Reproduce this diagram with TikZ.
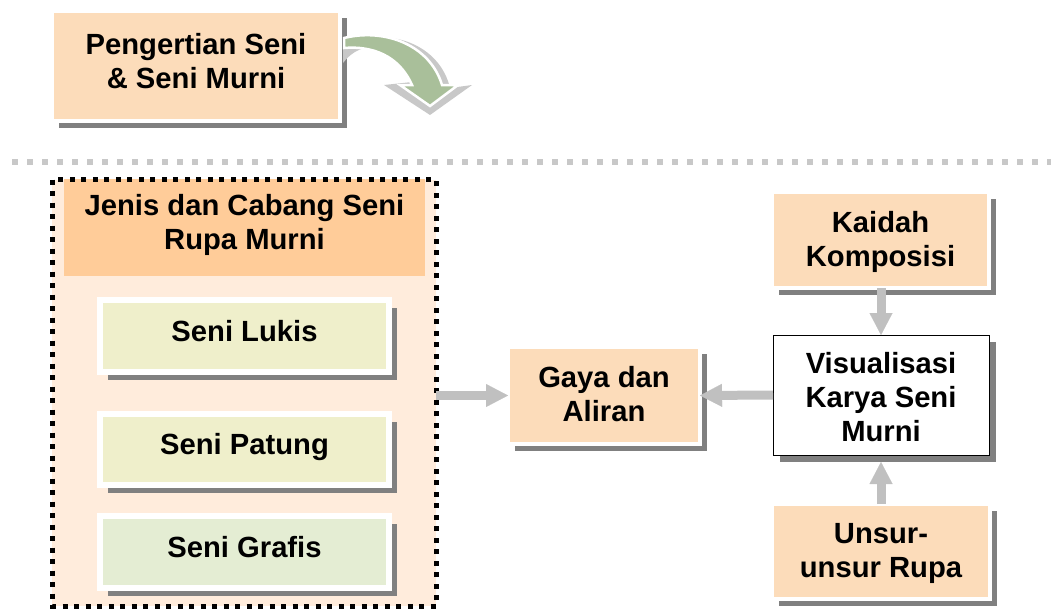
\documentclass[tikz,border=0pt]{standalone}
\usepackage{fontspec}
\setmainfont{Liberation Sans}
\usetikzlibrary{arrows.meta,shadows,calc}
\definecolor{peach}{HTML}{FCDCBA}
\definecolor{hdrc}{HTML}{FFCC99}
\definecolor{contfill}{HTML}{FFECDC}
\definecolor{lukisc}{HTML}{EFEFCB}
\definecolor{grafisc}{HTML}{E4EDD3}
\definecolor{shadowgray}{HTML}{808080}
\definecolor{arrowgray}{HTML}{C0C0C0}
\definecolor{sepgray}{HTML}{C8C8C8}
\definecolor{greenarr}{HTML}{A9BF9A}
\tikzset{
  txt/.style={align=center, inner sep=0pt, font=\bfseries\fontsize{29.2pt}{34pt}\selectfont},
  boxsh/.style={drop shadow={shadow xshift=#1, shadow yshift=-#1, fill=shadowgray, opacity=1}},
  peachbox/.style={draw=white, line width=4pt, fill=peach, inner sep=0pt, outer sep=0pt, boxsh=7pt},
  greenbox/.style={draw=white, line width=6pt, inner sep=0pt, outer sep=0pt, boxsh=8pt,
     minimum width=289pt},
  whitebox/.style={draw=black, line width=1pt, fill=white, inner sep=0pt, outer sep=0pt, boxsh=7pt},
  garrow/.style={draw=arrowgray, line width=9pt, -{Triangle[width=23pt,length=22pt,line width=0.1pt]}},
  sepline/.style={draw=sepgray, line width=6pt, dash pattern=on 6pt off 9pt},
  dotborder/.style={draw=black, line width=5pt, dash pattern=on 5pt off 6.5pt},
}
\begin{document}
\begin{tikzpicture}[x=1pt,y=-1pt]
\useasboundingbox (0,0) rectangle (1051,610);

% top box
\node[peachbox, minimum width=288pt, minimum height=110pt] (pg) at (196,66) {};
\node[txt] (pgt) at ($(pg.center)+(0,-5)$) {Pengertian Seni\\\& Seni Murni};

% curved arrow
\path[fill=sepgray]
  (343,63) .. controls (360,40) and (395,38) .. (412,82) -- (384,85) -- (430,115) -- (472,85) -- (450,88)
  .. controls (440,45) and (390,25) .. (343,45) -- cycle;
\path[fill=greenarr, draw=white, line width=2.5pt]
  (344,38) .. controls (385,28) and (430,45) .. (442,85) -- (458,85) -- (430,106) -- (400,85) -- (412,85)
  .. controls (402,62) and (380,45) .. (344,48) -- cycle;

% separator
\draw[sepline] (12,161.5) -- (1051,161.5);

% container
\node[fill=contfill, inner sep=0pt, outer sep=0pt, minimum width=384pt, minimum height=426.5pt] (cont) at (244,392.75) {};
\node[fill=hdrc, inner sep=0pt, outer sep=0pt, minimum width=361pt, minimum height=97pt] (hdr) at (244.5,227.5) {};
\node[txt] (hdrt) at ($(hdr.center)+(0,-2.75)$) {Jenis dan Cabang Seni\\Rupa Murni};
\draw[dotborder] (cont.north west) rectangle (cont.south east);

\node[greenbox, fill=lukisc, minimum height=71.5pt] (lukis) at (244.5,335.75) {};
\node[txt] (lukist) at ($(lukis.center)+(0,-5)$) {Seni Lukis};
\node[greenbox, fill=lukisc, minimum height=71pt] (patung) at (244.5,449.5) {};
\node[txt] (patungt) at ($(patung.center)+(0,-2.75)$) {Seni Patung};
\node[greenbox, fill=grafisc, minimum height=72pt] (grafis) at (244.5,552) {};
\node[txt] (grafist) at ($(grafis.center)+(0,-5.25)$) {Seni Grafis};

% right side
\node[peachbox, minimum width=192pt, minimum height=97pt] (gaya) at (604,395.5) {};
\node[txt] (gayat) at ($(gaya.center)+(0,-1.75)$) {Gaya dan\\Aliran};
\node[peachbox, minimum width=217pt, minimum height=96pt] (kaidah) at (880.5,240) {};
\node[txt] (kaidaht) at ($(kaidah.center)+(0,1.75)$) {Kaidah\\Komposisi};
\node[whitebox, minimum width=216pt, minimum height=120pt] (vis) at (881,395) {};
\node[txt] (vist) at ($(vis.center)+(0,1.75)$) {Visualisasi\\Karya Seni\\Murni};
\node[peachbox, minimum width=218pt, minimum height=95pt] (unsur) at (881,551.5) {};
\node[txt] (unsurt) at ($(unsur.center)+(0,2)$) {Unsur-\\unsur Rupa};

% connectors
\draw[garrow] (cont.east |- gaya.west) -- (gaya.west);
\draw[garrow] (vis.west) -- (gaya.east);
\draw[garrow] (vis.north |- kaidah.south) -- (vis.north);
\draw[garrow, shorten >=7pt] (vis.south |- unsur.north) -- (vis.south);
\end{tikzpicture}
\end{document}
